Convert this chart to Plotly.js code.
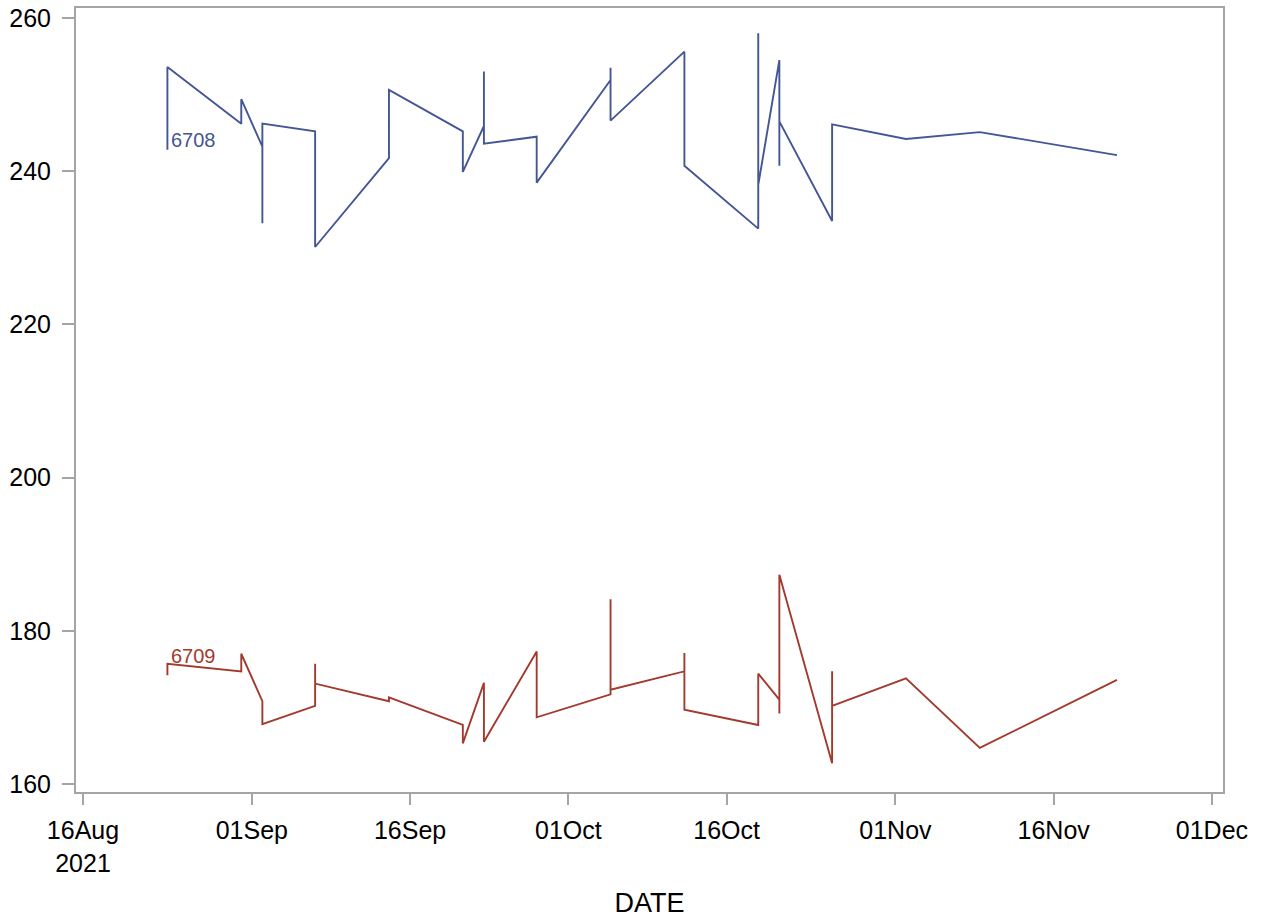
<!DOCTYPE html>
<html>
<head>
<meta charset="utf-8">
<script src="https://cdn.plot.ly/plotly-3.0.1.min.js"></script>
<style>
  html, body { margin: 0; padding: 0; background: #ffffff; }
  #chart { width: 1264px; height: 921px; }
</style>
</head>
<body>
<div id="chart"></div>
<script>
// Readings for unit 6708 (several readings can share a date)
const dates6708 = [
  '2021-08-24', '2021-08-24',
  '2021-08-31', '2021-08-31',
  '2021-09-02', '2021-09-02', '2021-09-02',
  '2021-09-07', '2021-09-07',
  '2021-09-14', '2021-09-14',
  '2021-09-21', '2021-09-21',
  '2021-09-23', '2021-09-23', '2021-09-23',
  '2021-09-28', '2021-09-28',
  '2021-10-05', '2021-10-05', '2021-10-05',
  '2021-10-12', '2021-10-12',
  '2021-10-19', '2021-10-19', '2021-10-19',
  '2021-10-21', '2021-10-21', '2021-10-21',
  '2021-10-26', '2021-10-26',
  '2021-11-02',
  '2021-11-09',
  '2021-11-22'
];
const values6708 = [
  242.8, 253.6,
  246.2, 249.4,
  243.2, 233.2, 246.2,
  245.2, 230.1,
  241.7, 250.6,
  245.2, 239.9,
  245.9, 253.0, 243.6,
  244.5, 238.5,
  251.9, 253.5, 246.6,
  255.6, 240.7,
  232.5, 258.0, 238.2,
  254.5, 240.7, 246.5,
  233.5, 246.1,
  244.2,
  245.1,
  242.1
];

// Readings for unit 6709
const dates6709 = [
  '2021-08-24', '2021-08-24',
  '2021-08-31', '2021-08-31',
  '2021-09-02', '2021-09-02',
  '2021-09-07', '2021-09-07', '2021-09-07',
  '2021-09-14', '2021-09-14',
  '2021-09-21', '2021-09-21',
  '2021-09-23', '2021-09-23',
  '2021-09-28', '2021-09-28',
  '2021-10-05', '2021-10-05', '2021-10-05',
  '2021-10-12', '2021-10-12', '2021-10-12',
  '2021-10-19', '2021-10-19',
  '2021-10-21', '2021-10-21', '2021-10-21',
  '2021-10-26', '2021-10-26', '2021-10-26',
  '2021-11-02',
  '2021-11-09',
  '2021-11-22'
];
const values6709 = [
  174.2, 175.7,
  174.7, 177.0,
  170.8, 167.8,
  170.2, 175.7, 173.1,
  170.8, 171.3,
  167.7, 165.3,
  173.2, 165.5,
  177.3, 168.7,
  171.7, 184.1, 172.3,
  174.7, 177.1, 169.7,
  167.7, 174.4,
  171.0, 169.2, 187.3,
  162.7, 174.7, 170.2,
  173.8,
  164.7,
  173.6
];

const seriesNames = ['6708', '6709'];
const seriesColors = ['#445694', '#A23A2E'];

// Date axis ticks
const tickDates = ['2021-08-16', '2021-09-01', '2021-09-16', '2021-10-01',
                   '2021-10-16', '2021-11-01', '2021-11-16', '2021-12-01'];
const tickLabels = ['16Aug<br>2021', '01Sep', '16Sep', '01Oct',
                    '16Oct', '01Nov', '16Nov', '01Dec'];
const yTicks = [160, 180, 200, 220, 240, 260];

const fontFamily = '"Liberation Sans", Arial, sans-serif';
const axisGray = '#a5a5a5';

const traces = [
  {
    x: dates6708, y: values6708, type: 'scatter', mode: 'lines',
    name: seriesNames[0], line: { color: seriesColors[0], width: 1.9 },
    hoverinfo: 'x+y'
  },
  {
    x: dates6709, y: values6709, type: 'scatter', mode: 'lines',
    name: seriesNames[1], line: { color: seriesColors[1], width: 1.9 },
    hoverinfo: 'x+y'
  }
];

// Curve labels sit just right of each series' first reading
const curveLabels = [
  { x: dates6708[0], y: values6708[0], text: seriesNames[0], color: seriesColors[0], yshift: 10 },
  { x: dates6709[0], y: values6709[0], text: seriesNames[1], color: seriesColors[1], yshift: 19 }
].map(c => ({
  x: c.x, y: c.y, xref: 'x', yref: 'y', text: c.text, showarrow: false,
  xanchor: 'left', yanchor: 'middle', xshift: 2, yshift: c.yshift,
  font: { family: fontFamily, size: 20, color: c.color }
}));

const layout = {
  width: 1264,
  height: 921,
  margin: { l: 76, r: 41, t: 8, b: 129 },
  paper_bgcolor: '#ffffff',
  plot_bgcolor: '#ffffff',
  showlegend: false,
  font: { family: fontFamily, color: '#000000' },
  xaxis: {
    type: 'date',
    range: ['2021-08-15 08:04', '2021-12-02 01:10'],
    tickmode: 'array',
    tickvals: tickDates,
    ticktext: tickLabels,
    ticks: 'outside',
    ticklen: 11,
    tickwidth: 2,
    tickcolor: axisGray,
    tickfont: { family: fontFamily, size: 25, color: '#000000' },
    ticklabelstandoff: 4,
    showgrid: false,
    zeroline: false,
    showline: true,
    linecolor: axisGray,
    linewidth: 2,
    mirror: true,
    title: { text: 'DATE', font: { family: fontFamily, size: 27, color: '#000000' }, standoff: 18 }
  },
  yaxis: {
    range: [158.95, 261.3],
    tickmode: 'array',
    tickvals: yTicks,
    ticks: 'outside',
    ticklen: 12,
    tickwidth: 2,
    tickcolor: axisGray,
    tickfont: { family: fontFamily, size: 25, color: '#000000' },
    ticklabelstandoff: 6,
    showgrid: false,
    zeroline: false,
    showline: true,
    linecolor: axisGray,
    linewidth: 2,
    mirror: true
  },
  annotations: curveLabels
};

Plotly.newPlot('chart', traces, layout, { displayModeBar: false, staticPlot: true });
</script>
</body>
</html>
